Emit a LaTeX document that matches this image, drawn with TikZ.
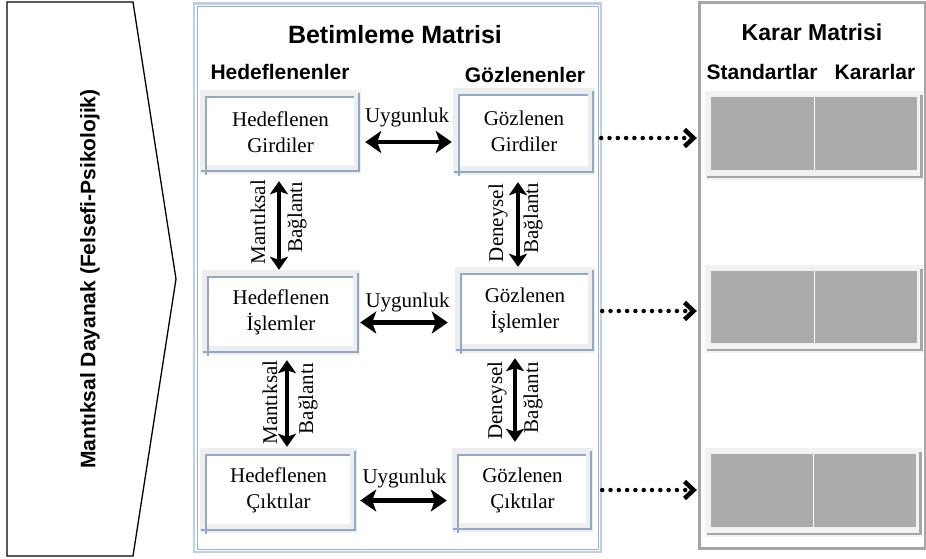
\documentclass[tikz,border=0pt]{standalone}
\usepackage{fontspec}
\setmainfont{Liberation Serif}
\newfontfamily\hsans{Liberation Sans}
\usetikzlibrary{arrows.meta}
\definecolor{frameblue}{RGB}{190,208,232}
\definecolor{frameblueline}{RGB}{150,178,214}
\definecolor{boxblue}{RGB}{145,168,198}
\definecolor{boxgray}{RGB}{238,238,238}
\definecolor{cellgray}{RGB}{171,171,171}
\definecolor{cellframe}{RGB}{242,242,242}
\definecolor{kframe}{RGB}{166,166,166}
\begin{document}
\begin{tikzpicture}[x=1pt,y=-1pt,
  serif/.style={font=\fontsize{21}{26}\selectfont, inner sep=0pt},
  headbig/.style={font=\hsans\bfseries\fontsize{25}{30}\selectfont, inner sep=0pt},
  headmid/.style={font=\hsans\bfseries\fontsize{23}{28}\selectfont, inner sep=0pt},
  headsmall/.style={font=\hsans\bfseries\fontsize{21}{25}\selectfont, inner sep=0pt},
  tbox/.style={fill=boxgray, draw=none, inner sep=0pt, align=center,
    font=\fontsize{21}{26}\selectfont,
    path picture={
      \fill[white] ([shift={(6pt,-7pt)}]path picture bounding box.north west)
        rectangle ([shift={(-7pt,9pt)}]path picture bounding box.south east);
      \draw[boxblue, line width=1.4pt]
        ([shift={(6pt,-9pt)}]path picture bounding box.south west)
        -- ([shift={(6pt,-7pt)}]path picture bounding box.north west)
        -- ([shift={(-7pt,-7pt)}]path picture bounding box.north east);
      \draw[boxblue, line width=2.6pt]
        ([shift={(1pt,3pt)}]path picture bounding box.south west)
        -- ([shift={(-2pt,3pt)}]path picture bounding box.south east)
        -- ([shift={(-2pt,-3pt)}]path picture bounding box.north east);
    }},
  kcell/.style={fill=cellframe, draw=none, inner sep=0pt,
    minimum width=218pt, minimum height=89pt,
    path picture={
      \fill[cellgray] ([shift={(6pt,-6pt)}]path picture bounding box.north west)
        rectangle ([shift={(-6pt,10pt)}]path picture bounding box.south east);
      \draw[white, line width=1pt] ([yshift=-6pt]path picture bounding box.north)
        -- ([yshift=10pt]path picture bounding box.south);
      \draw[kframe, line width=2.4pt]
        ([shift={(2pt,3pt)}]path picture bounding box.south west)
        -- ([shift={(-1.5pt,3pt)}]path picture bounding box.south east)
        -- ([shift={(-1.5pt,-4pt)}]path picture bounding box.north east);
    }},
  glow/.style={preaction={draw=black!22, line width=6.5pt}},
  dbl/.style={line width=4.5pt, {Stealth[length=16pt,width=22pt,inset=4pt]}-{Stealth[length=16pt,width=22pt,inset=4pt]}},
  vdbl/.style={line width=4pt, {Stealth[length=13pt,width=18pt,inset=3pt]}-{Stealth[length=13pt,width=18pt,inset=3pt]}},
  dotarrow/.style={line width=4.5pt, line cap=round, dash pattern=on 0pt off 8.3pt,
    -{Straight Barb[length=9pt,width=17pt,line width=4.5pt]}},
  vlabel/.style={font=\fontsize{21}{26}\selectfont, inner sep=0pt}
]
\useasboundingbox (0,0) rectangle (926,558);
\fill[white] (0,0) rectangle (926,558);

% left pentagon
\draw[line width=1.3pt, line join=miter] (7,2) -- (133,2) -- (176,279) -- (133,556) -- (7,556) -- cycle;
\node[font=\hsans\bfseries\fontsize{21}{25}\selectfont, inner sep=0pt, rotate=90] (base) at (90,279) {Mantıksal Dayanak (Felsefi-Psikolojik)};

% frames
\draw[frameblue, line width=2.5pt] (194,3.5) rectangle (601,552);
\draw[frameblueline, line width=0.8pt] (197,6.5) rectangle (598,549);
\draw[kframe, line width=3pt] (699,2) rectangle (925,548);

% headers
\node[headbig] (bm) at (395,35) {Betimleme Matrisi};
\node[headsmall] (hh) at (280,72) {Hedeflenenler};
\node[headsmall] (gh) at (525,75) {Gözlenenler};
\node[headmid] (km) at (812,32) {Karar Matrisi};
\node[headsmall] (st) at (762,72) {Standartlar};
\node[headsmall] (kr) at (875,72) {Kararlar};

% boxes
\node[tbox, minimum width=161pt, minimum height=84pt] (L1) at (280.5,132) {Hedeflenen\\Girdiler};
\node[tbox, minimum width=142pt, minimum height=87pt] (R1) at (524,131.5) {Gözlenen\\Girdiler};
\node[tbox, minimum width=158pt, minimum height=85pt] (L2) at (281,312.5) {Hedeflenen\\İşlemler};
\node[tbox, minimum width=140pt, minimum height=86pt] (R2) at (525,310) {Gözlenen\\İşlemler};
\node[tbox, minimum width=157pt, minimum height=85pt] (L3) at (278.5,490.5) {Hedeflenen\\Çıktılar};
\node[tbox, minimum width=141pt, minimum height=84pt] (R3) at (522.5,490) {Gözlenen\\Çıktılar};

% decision cells
\node[kcell] (K1) at (814,135.5) {};
\node[kcell, minimum height=88pt] (K2) at (814,309) {};
\node[kcell, minimum width=217pt] (K3) at (813.5,492.5) {};

% Uygunluk arrows
\draw[dbl, shorten <=4pt, shorten >=1pt] ([yshift=-10pt]L1.east) -- ([yshift=-10pt]L1.east -| R1.west)
  node[midway, yshift=25pt, serif] (U1) {Uygunluk};
\draw[dbl, shorten >=7pt] ([yshift=-10pt]L2.east) -- ([yshift=-10pt]L2.east -| R2.west)
  node[midway, yshift=20pt, serif] (U2) {Uygunluk};
\draw[dbl, shorten <=3pt, shorten >=5pt] ([yshift=-10pt]L3.east) -- ([yshift=-10pt]L3.east -| R3.west)
  node[midway, yshift=22pt, serif] (U3) {Uygunluk};

% vertical arrows
\draw[vdbl, shorten <=7pt] ([xshift=-1.5pt]L1.south) -- ([xshift=-1.5pt]L1.south |- L2.north)
  node[midway, xshift=-21pt, rotate=90, vlabel] (M1) {Mantıksal}
  node[midway, xshift=18pt, yshift=5pt, rotate=90, vlabel] (B1) {Bağlantı};
\draw[vdbl, shorten <=5pt, shorten >=1pt] ([xshift=6pt]L2.south) -- ([xshift=6pt]L2.south |- L3.north)
  node[midway, xshift=-17pt, yshift=-1pt, rotate=90, vlabel] (M2) {Mantıksal}
  node[midway, xshift=21pt, yshift=3pt, rotate=90, vlabel] (B2) {Bağlantı};
\draw[vdbl, shorten <=7pt] ([xshift=-6pt]R1.south) -- ([xshift=-6pt]R1.south |- R2.north)
  node[midway, xshift=-20pt, yshift=-2pt, rotate=90, vlabel] (D1) {Deneysel}
  node[midway, xshift=15pt, yshift=3pt, rotate=90, vlabel] (B3) {Bağlantı};
\draw[vdbl, shorten <=5pt, shorten >=6pt] ([xshift=-10pt]R2.south) -- ([xshift=-10pt]R2.south |- R3.north)
  node[midway, xshift=-18pt, rotate=90, vlabel] (D2) {Deneysel}
  node[midway, xshift=18pt, yshift=3pt, rotate=90, vlabel] (B4) {Bağlantı};

% dotted arrows
\coordinate (d1) at ([xshift=6pt,yshift=-6.5pt]R1.east);
\coordinate (d2) at ([xshift=7pt,yshift=-1pt]R2.east);
\coordinate (d3) at ([xshift=9pt]R3.east);
\draw[dotarrow, shorten >=8pt] (d1) -- (d1 -| K1.west);
\draw[dotarrow, shorten >=8pt] (d2) -- (d2 -| K2.west);
\draw[dotarrow, shorten >=8pt] (d3) -- (d3 -| K3.west);
\end{tikzpicture}
\end{document}
